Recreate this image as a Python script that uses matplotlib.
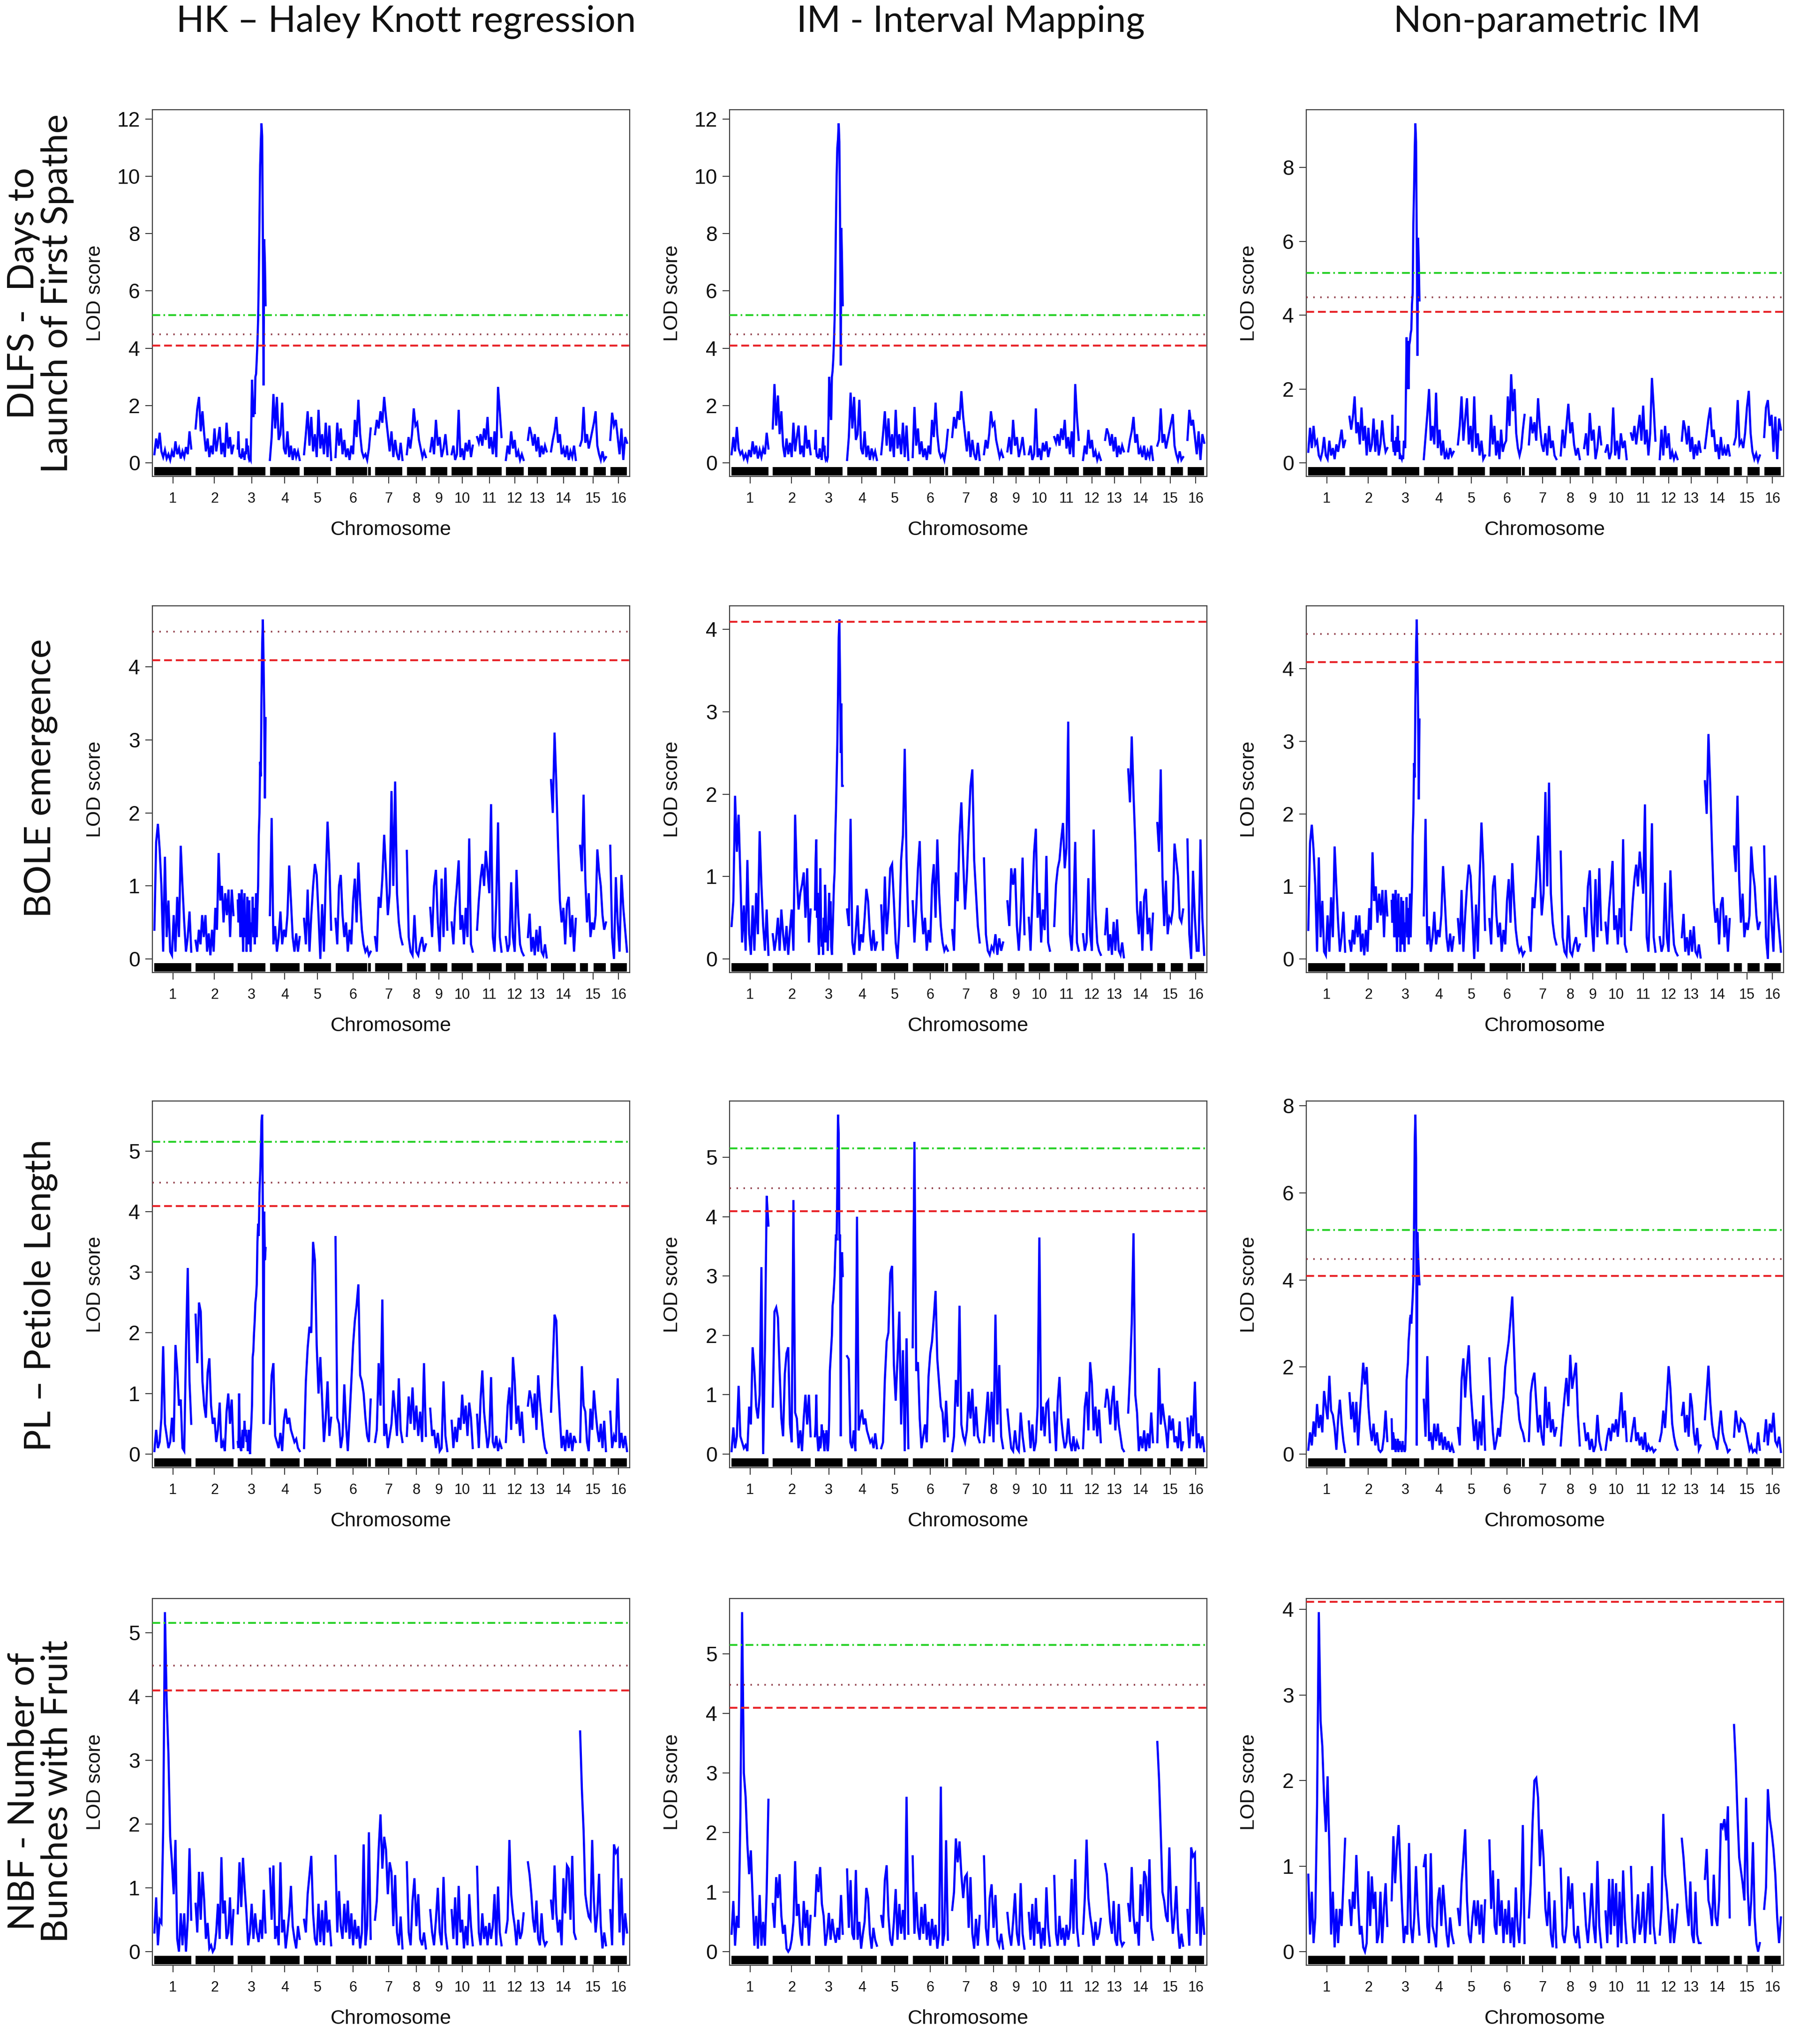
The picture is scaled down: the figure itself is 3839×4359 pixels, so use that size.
import numpy as np
import matplotlib
matplotlib.use("Agg")
import matplotlib.pyplot as plt
from matplotlib.patches import Rectangle
from matplotlib.transforms import blended_transform_factory

# ---------------- data ----------------
chrom_names = [str(i) for i in range(1, 17)]
chrom_len = [110, 113, 83, 89, 81, 105, 82, 57, 51, 63, 73, 53, 56, 74, 77, 50]
rug_gaps = {6: [(0.90, 0.92)], 15: [(0.30, 0.52)]}
thresholds = [5.15, 4.48, 4.09]

col_titles = ["HK \u2013 Haley Knott regression", "IM - Interval Mapping", "Non-parametric IM"]
row_labels = ["DLFS -  Days to\nLaunch of First Spathe", "BOLE emergence",
              "PL \u2013 Petiole Length", "NBF - Number of\nBunches with Fruit"]

DLFS_HK = [
    [0.3,0.85,0.5,1.05,0.4,0.2,0.45,0.15,0.3,0.1,0.4,0.2,0.75,0.3,0.5,0.15,0.4,0.2,0.55,0.3,1.1,0.5],
    [1.2,1.9,2.3,1.1,1.8,1.0,0.4,0.85,0.2,0.6,0.3,1.2,0.4,0.8,1.25,0.3,0.7,0.2,1.4,0.5,0.9,0.3,0.6],
    [0.5,1.1,0.4,0.2,0.3,0.15,0.3,0.5,0.2,0.3,0.1,0.4,0.3,0.85,0.4,0.6,0.2,0.1,0.15,0.1,1.5,2.9,2.3,1.6,1.9,1.7,3.0,3.1,3.6,4.2,5.0,6.5,8.5,10.4,11.2,11.85,11.4,8.0,2.7,7.8,7.0,5.5],
    [0.1,0.9,2.4,1.2,2.3,0.8,1.0,2.1,0.5,0.3,1.1,0.2,0.6,0.1,0.5,0.2,0.4,0.1],
    [0.3,1.0,1.8,0.6,1.6,0.4,1.0,0.2,1.85,0.5,1.0,0.3,1.4,0.2,1.3,0.1],
    [0.2,1.4,0.6,1.2,0.3,0.8,0.2,0.5,0.1,0.6,0.3,1.5,0.9,2.2,1.0,0.4,0.2,0.3,0.1,0.5,1.2],
    [1.0,1.5,1.2,1.8,1.4,2.3,1.6,1.0,0.4,1.1,0.2,0.8,0.3,0.1,0.7,0.1],
    [0.3,0.9,0.5,1.0,1.9,1.3,1.4,0.8,0.5,0.2,0.4,0.2],
    [0.4,0.9,0.3,1.5,0.6,0.9,0.2,0.5,1.0,0.3],
    [0.3,0.6,0.1,0.3,1.85,0.2,0.5,0.1,0.7,0.4,0.8,0.2,0.6],
    [0.9,0.7,1.0,0.6,1.2,0.8,1.6,0.5,0.9,0.3,1.1,0.2,2.65,1.8,0.9],
    [0.1,0.6,0.3,1.1,0.5,0.8,0.2,0.4,0.1,0.3,0.1],
    [0.8,1.25,1.0,0.6,1.0,0.4,0.9,0.2,0.6,0.3,0.6,0.4],
    [0.4,0.8,1.1,1.6,0.7,1.0,0.3,0.5,0.2,0.6,0.1,0.4,0.2,0.6,0.1],
    [0.6,0.8,1.95,0.7,1.0,0.5,0.8,1.1,1.4,1.8,0.6,0.3,0.1,0.4,0.1,0.2],
    [0.8,1.75,1.3,1.5,0.9,0.3,1.2,0.1,0.9,0.7],
]
DLFS_IM = [
    [0.3,0.9,0.4,1.25,0.5,0.3,0.4,0.15,0.3,0.1,0.45,0.2,0.75,0.3,0.6,0.15,0.45,0.2,0.5,0.3,1.05,0.5],
    [1.2,2.75,1.3,2.35,1.0,1.8,0.6,0.2,0.85,0.3,0.7,0.2,1.4,0.4,0.9,1.3,0.3,0.6,0.2,1.3,0.5,0.8,0.3],
    [0.5,1.15,0.4,0.2,0.3,0.15,0.3,0.5,0.2,0.35,0.1,0.5,0.9,0.4,0.6,0.2,0.1,0.15,0.1,0.2,1.5,3.0,2.6,1.7,1.5,3.0,3.2,3.6,4.2,5.0,6.5,8.4,10.0,11.0,11.3,11.85,11.2,8.5,3.4,8.2,7.0,5.5],
    [0.1,0.9,2.45,1.2,2.3,0.8,1.0,2.2,0.5,0.3,1.1,0.2,0.6,0.1,0.5,0.2,0.4,0.1],
    [0.3,1.0,1.8,0.6,1.55,0.4,1.0,0.2,1.85,0.5,1.0,0.3,1.4,0.2,1.3,0.1],
    [0.2,1.95,0.6,1.2,0.3,0.75,0.2,0.5,0.1,0.6,0.3,1.5,0.9,2.1,1.0,0.4,0.2,0.3,0.1,0.5,1.15],
    [0.9,1.6,1.2,1.8,1.5,2.5,1.6,1.0,0.4,1.1,0.2,0.8,0.3,0.1,0.7,0.1],
    [0.3,0.8,0.5,1.0,1.8,1.3,1.4,0.8,0.5,0.2,0.4,0.2],
    [0.4,0.9,0.3,1.5,0.6,0.9,0.2,0.5,0.9,0.3],
    [0.3,0.6,0.1,0.3,1.9,0.2,0.5,0.1,0.7,0.4,0.75,0.2,0.5],
    [0.9,0.7,1.0,0.6,1.2,0.8,1.5,0.5,0.9,0.3,1.1,0.2,2.75,1.6,0.8],
    [0.1,0.6,0.3,1.15,0.5,0.8,0.2,0.4,0.1,0.3,0.1],
    [0.8,1.2,1.0,0.6,1.0,0.4,0.9,0.2,0.6,0.3,0.6,0.4],
    [0.4,0.8,1.1,1.6,0.7,1.0,0.3,0.5,0.2,0.6,0.1,0.4,0.2,0.6,0.1],
    [0.6,0.8,1.9,0.7,1.0,0.5,0.8,1.1,1.4,1.7,0.6,0.3,0.1,0.4,0.1,0.2],
    [0.8,1.85,1.3,1.5,0.9,0.3,1.1,0.1,1.0,0.7],
]
DLFS_NP = [
    [0.3,0.95,0.4,1.0,0.5,0.6,0.2,0.1,0.3,0.7,0.2,0.1,0.6,0.2,0.4,0.1,0.5,0.3,0.6,0.9,0.4,0.6],
    [1.25,0.9,1.25,1.8,0.8,1.1,0.5,1.5,0.6,1.0,0.2,0.95,0.3,0.5,1.2,0.3,0.9,0.2,0.5,1.15,0.6,0.3,0.4],
    [0.6,1.3,0.5,0.3,0.6,0.2,0.4,0.7,0.3,1.0,0.3,0.6,0.1,0.2,0.15,0.1,0.2,0.1,0.6,0.5,0.4,1.9,3.4,2.0,3.3,2.0,3.2,3.3,3.5,3.6,4.3,4.6,6.5,7.4,8.5,9.2,8.7,6.0,2.9,6.1,5.4,4.4],
    [0.1,0.7,1.3,2.0,0.6,1.0,0.5,1.9,0.4,0.9,0.2,0.6,0.1,0.3,0.1,0.4,0.2,0.3],
    [0.5,1.0,1.8,0.6,1.2,1.75,0.5,1.0,0.3,1.8,0.4,0.8,0.2,0.6,0.1,0.2],
    [0.2,1.3,0.5,1.0,0.2,0.6,0.1,0.9,0.3,0.5,0.6,1.8,1.0,2.4,1.4,2.0,0.8,0.4,0.2,0.4,0.9,1.3],
    [0.5,1.25,0.8,1.1,0.6,1.75,1.0,0.5,0.3,0.8,0.2,1.0,0.4,0.6,0.2,0.1],
    [0.2,0.9,0.4,1.0,1.6,0.8,1.1,0.5,0.2,0.4,0.1],
    [0.4,0.8,0.2,1.35,0.6,0.9,0.1,0.4,1.0,0.5],
    [0.3,0.5,0.1,0.3,1.5,0.2,0.6,0.1,0.8,0.4,0.6,0.1],
    [0.8,0.6,1.0,0.5,0.9,1.3,0.6,1.55,0.5,0.9,0.2,0.8,2.3,1.5,0.6],
    [0.1,0.9,0.2,1.0,0.4,0.8,0.1,0.3,0.1,0.25,0.1],
    [0.6,1.15,0.9,0.5,1.0,0.3,0.7,0.1,0.5,0.2,0.6,0.3],
    [0.4,0.8,1.2,1.5,0.7,0.9,0.3,0.5,0.1,0.7,0.2,0.4,0.2,0.5,0.2],
    [0.5,0.7,1.7,0.5,0.6,0.4,0.8,1.5,1.95,0.8,0.3,0.1,0.25,0.05,0.2],
    [0.7,1.5,1.7,1.0,1.3,0.3,1.25,0.1,1.2,0.9],
]
BOLE_HK = [
    [0.4,1.6,1.85,1.5,1.0,0.1,1.4,0.3,0.8,0.1,0.05,0.6,0.1,0.85,0.3,1.55,1.0,0.5,0.1,0.3,0.65,0.1],
    [0.25,0.1,0.4,0.2,0.6,0.3,0.6,0.1,0.35,0.05,0.4,0.1,0.7,0.4,1.45,0.8,1.0,0.5,0.9,0.6,0.95,0.3,0.95,0.6],
    [0.8,0.5,0.9,0.6,0.3,0.8,0.95,0.4,0.1,0.7,0.9,0.3,0.6,0.1,0.85,0.4,0.2,0.8,0.3,0.1,0.5,0.4,0.85,0.3,0.7,0.2,0.4,0.9,0.3,0.7,1.0,1.7,2.0,2.7,2.5,3.6,4.3,4.65,4.1,3.4,2.2,3.3],
    [0.6,1.93,0.2,0.45,0.1,0.3,0.65,0.2,0.4,0.3,0.6,1.28,0.8,0.3,0.1,0.35,0.1,0.3],
    [0.55,0.2,0.95,0.1,0.6,1.0,1.3,1.15,0.6,0.0,0.75,0.1,1.1,1.88,1.3,0.4],
    [0.55,0.2,1.0,1.15,0.6,0.3,0.5,0.1,0.4,0.2,0.8,1.1,0.5,1.32,0.8,0.4,0.2,0.1,0.15,0.05,0.1],
    [0.3,0.1,0.85,0.7,1.1,1.7,1.2,0.6,0.9,2.3,1.0,2.43,0.9,0.5,0.3,0.2],
    [1.48,0.3,0.1,0.05,0.6,0.1,0.05,0.2,0.3,0.1,0.2],
    [0.7,0.3,1.0,1.22,0.5,0.1,1.1,0.3,1.25,0.4],
    [0.5,0.2,0.7,1.0,1.35,0.4,0.6,0.2,0.7,0.3,1.65,0.2,0.1],
    [0.4,0.8,1.1,1.3,1.0,1.48,1.2,0.9,2.12,0.3,0.1,0.8,1.87,0.3,0.1],
    [0.3,0.1,0.2,1.05,0.3,0.1,1.22,0.6,0.2,0.1,0.05],
    [0.3,0.62,0.1,0.3,0.05,0.4,0.1,0.45,0.1,0.05,0.2,0.02],
    [2.45,2.0,3.1,2.4,1.55,0.8,0.5,0.7,0.2,0.75,0.85,0.3,0.6,0.1,0.55],
    [1.55,1.2,2.25,1.1,0.5,0.9,0.3,0.5,0.4,0.6,1.5,1.2,1.0,0.6,0.4,0.5],
    [1.55,0.3,0.0,1.12,0.5,0.1,1.15,0.7,0.4,0.1],
]
BOLE_IM = [
    [0.4,0.7,1.98,1.3,1.75,1.0,0.2,0.65,0.1,1.2,0.3,0.05,0.65,0.1,0.8,0.3,1.55,0.9,0.4,0.1,0.6,0.05],
    [0.3,0.1,0.25,0.5,0.1,0.6,0.3,0.1,0.4,0.05,0.35,0.6,0.1,1.75,1.0,0.6,0.8,0.9,1.05,0.5,1.1,0.2,0.6],
    [0.6,1.2,1.45,0.5,0.8,0.2,0.05,0.6,1.1,0.4,0.15,0.3,0.05,0.5,0.2,0.9,0.6,0.2,0.4,0.1,0.5,0.8,0.35,0.7,0.15,0.05,0.3,0.6,0.9,1.05,1.5,1.8,2.2,2.6,3.2,3.9,4.12,3.4,2.5,3.1,2.1,2.1],
    [0.6,0.4,1.7,0.2,0.05,0.35,0.65,0.1,0.3,0.2,0.5,0.85,0.7,0.3,0.1,0.35,0.1,0.2],
    [0.65,0.1,1.0,0.3,0.6,1.1,1.15,0.7,0.2,0.0,0.4,1.2,1.5,2.55,1.2,0.4],
    [0.7,0.2,0.6,1.1,1.43,0.6,0.3,0.5,0.1,0.35,0.2,0.9,1.15,0.5,1.45,0.8,0.4,0.2,0.1,0.15,0.1],
    [0.35,0.1,1.05,0.7,1.5,1.9,1.2,0.6,1.0,1.6,2.1,2.3,1.2,0.8,0.4,0.2],
    [1.22,0.3,0.1,0.05,0.15,0.1,0.3,0.05,0.25,0.1,0.2],
    [0.7,0.4,1.1,0.9,1.1,0.4,0.1,0.5,1.23,0.3],
    [0.5,0.1,0.7,1.3,1.58,0.5,0.8,0.2,0.6,0.35,1.25,0.2,0.1],
    [0.4,0.9,1.1,1.2,1.45,1.65,1.1,1.35,2.88,0.3,0.1,0.6,1.42,0.2,0.1],
    [0.3,0.1,0.2,0.98,0.3,0.1,1.57,0.6,0.2,0.1,0.05],
    [0.3,0.62,0.1,0.3,0.05,0.45,0.1,0.48,0.1,0.05,0.2,0.02],
    [2.3,1.9,2.7,2.0,1.4,0.6,0.3,0.7,0.1,0.75,0.85,0.3,0.5,0.1,0.55],
    [1.65,1.3,2.3,1.0,0.4,0.95,0.3,0.5,0.45,0.6,1.4,1.2,1.0,0.5,0.45,0.6],
    [1.45,0.3,0.0,1.07,0.5,0.1,0.1,1.45,0.5,0.05],
]
BOLE_NP = [
    [0.4,1.6,1.85,1.5,1.0,0.1,1.4,0.3,0.8,0.1,0.05,0.6,0.1,0.85,0.3,1.55,1.0,0.5,0.1,0.3,0.65,0.1],
    [0.25,0.1,0.4,0.2,0.6,0.3,0.6,0.1,0.35,0.05,0.4,0.1,0.7,0.4,1.47,0.8,1.0,0.5,0.9,0.6,0.95,0.3,0.95,0.6],
    [0.8,0.5,0.9,0.6,0.3,0.8,0.95,0.4,0.1,0.7,0.9,0.3,0.6,0.1,0.85,0.4,0.2,0.8,0.3,0.1,0.5,0.4,0.85,0.3,0.7,0.2,0.4,0.9,0.3,0.7,1.0,1.7,2.0,2.7,2.5,3.6,4.3,4.68,4.1,3.4,2.2,3.3],
    [0.6,1.93,0.2,0.45,0.1,0.3,0.65,0.2,0.4,0.3,0.6,1.28,0.8,0.3,0.1,0.35,0.1,0.3],
    [0.55,0.2,0.95,0.1,0.6,1.0,1.3,1.15,0.6,0.0,0.75,0.1,1.1,1.88,1.3,0.4],
    [0.55,0.2,1.0,1.15,0.6,0.3,0.5,0.1,0.4,0.2,0.8,1.1,0.5,1.32,0.8,0.4,0.2,0.1,0.15,0.05,0.1],
    [0.3,0.1,0.85,0.7,1.1,1.7,1.2,0.6,0.9,2.3,1.0,2.43,0.9,0.5,0.3,0.2],
    [1.48,0.3,0.1,0.05,0.6,0.1,0.05,0.2,0.3,0.1,0.2],
    [0.7,0.3,1.0,1.22,0.5,0.1,1.1,0.3,1.25,0.4],
    [0.5,0.2,0.7,1.0,1.35,0.4,0.6,0.2,0.7,0.3,1.65,0.2,0.1],
    [0.4,0.8,1.1,1.3,1.0,1.48,1.2,0.9,2.13,0.3,0.1,0.8,1.87,0.3,0.1],
    [0.3,0.1,0.2,1.05,0.3,0.1,1.22,0.6,0.2,0.1,0.05],
    [0.3,0.62,0.1,0.3,0.05,0.4,0.1,0.45,0.1,0.05,0.2,0.02],
    [2.45,2.0,3.1,2.4,1.55,0.8,0.5,0.7,0.2,0.75,0.85,0.3,0.6,0.1,0.55],
    [1.55,1.2,2.25,1.1,0.5,0.9,0.3,0.5,0.4,0.6,1.55,1.2,1.0,0.6,0.4,0.5],
    [1.55,0.3,0.0,1.12,0.5,0.1,1.15,0.7,0.4,0.1],
]
PL_HK = [
    [0.05,0.4,0.1,0.2,0.6,1.78,0.5,0.3,0.1,0.2,0.6,0.2,1.8,1.4,0.8,0.9,0.1,0.05,1.75,3.07,1.2,0.5],
    [2.3,1.5,2.5,2.35,1.2,0.8,0.6,1.35,1.58,0.8,0.5,0.6,0.2,0.4,0.85,0.1,0.2,0.05,0.7,1.0,0.5,0.9,0.1],
    [0.2,0.1,1.0,0.3,0.1,0.05,0.2,0.4,0.1,0.3,0.55,0.3,0.4,0.2,0.3,0.05,0.4,0.2,0.0,0.3,0.5,0.8,1.6,1.7,2.0,2.2,2.5,2.6,2.8,3.5,3.8,3.6,4.3,4.6,5.0,5.5,5.6,4.0,0.5,4.0,3.2,3.4],
    [0.5,1.3,1.5,0.3,0.2,0.1,0.35,0.05,0.55,0.75,0.5,0.6,0.4,0.3,0.2,0.25,0.1,0.05],
    [0.1,1.2,1.75,2.1,2.0,3.5,3.2,1.8,1.0,1.6,0.9,0.2,0.6,1.2,0.3,0.6],
    [3.58,0.6,0.5,0.1,0.3,1.15,0.5,0.05,0.6,1.2,1.8,2.2,2.45,2.8,1.3,1.2,1.0,0.6,0.3,0.2,0.9],
    [0.2,0.4,1.5,0.8,2.55,0.3,0.5,0.1,0.3,0.5,1.05,0.7,0.3,1.25,0.4,0.2],
    [0.3,0.95,0.5,1.1,0.4,0.8,0.3,0.7,0.2,1.5,0.3],
    [0.75,0.3,0.4,0.1,0.35,0.05,0.1,1.2,0.3,0.05],
    [0.55,0.1,0.45,0.2,0.6,0.4,0.98,0.5,0.8,0.3,0.85,0.6,0.1],
    [0.65,0.1,0.9,1.38,0.7,0.4,0.1,0.3,1.27,0.2,0.1,0.3,0.05,0.2,0.1],
    [0.2,0.8,1.1,0.4,1.6,1.2,0.5,0.8,0.3,0.7,0.2],
    [0.8,1.05,0.9,0.6,1.0,0.4,1.3,0.9,0.6,0.3,0.1,0.02],
    [0.7,1.5,2.3,2.2,1.15,0.6,0.1,0.3,0.05,0.4,0.1,0.35,0.05,0.3,0.2],
    [0.2,1.45,0.8,0.7,0.2,0.05,0.75,0.4,1.05,0.7,0.4,0.2,0.5,0.1,0.55,0.05],
    [0.7,0.1,0.3,0.2,1.25,0.1,0.35,0.1,0.3,0.05],
]
PL_IM = [
    [0.05,0.45,0.1,0.3,1.15,0.3,0.2,0.1,0.15,0.05,0.8,0.5,1.8,1.4,0.8,0.6,1.0,3.15,0.0,1.75,4.35,3.85],
    [0.8,2.4,2.47,2.3,1.4,0.6,0.3,1.35,1.7,1.8,0.5,0.2,4.28,0.7,0.6,0.1,0.4,0.05,0.6,1.0,0.5,1.0,0.3],
    [0.3,0.5,1.0,0.4,0.2,0.05,0.1,0.3,0.1,0.2,0.5,0.3,0.4,0.2,0.05,0.35,0.2,0.4,0.1,0.05,0.2,0.6,1.4,1.6,1.8,2.0,2.5,2.6,2.8,3.0,3.4,3.7,3.6,4.5,5.72,5.4,3.6,3.7,0.3,3.2,3.4,3.0],
    [1.65,1.6,0.2,0.1,0.4,0.05,4.0,0.4,0.6,0.75,0.5,0.6,0.4,0.3,0.2,0.25,0.1,0.35,0.1],
    [0.1,0.2,1.25,1.9,2.05,3.05,3.17,1.5,0.9,1.6,2.4,0.5,1.75,0.05,1.95,0.1],
    [1.8,5.26,1.4,1.55,0.6,0.1,0.3,0.5,0.2,1.3,1.7,1.9,2.3,2.75,1.6,1.2,0.8,0.7,0.2,0.9,0.3],
    [0.05,0.3,1.25,0.8,2.5,0.5,0.3,0.2,0.4,1.05,0.6,1.1,0.3,0.8,0.3,0.2],
    [0.2,0.6,1.05,0.3,1.05,0.2,2.35,0.5,1.5,0.3,0.1],
    [0.75,0.4,0.1,0.05,0.4,0.1,0.05,0.7,0.3,0.05],
    [0.55,0.1,0.5,0.05,0.2,0.8,3.65,0.4,0.8,0.3,0.85,0.9,0.2],
    [0.7,0.05,0.9,1.3,0.6,0.3,0.1,0.2,0.6,0.2,0.05,0.3,0.05,0.2,0.1],
    [0.1,0.8,1.05,0.4,1.55,1.2,0.4,0.8,0.3,0.75,0.2],
    [0.8,1.1,0.9,0.5,0.9,1.15,0.4,0.9,0.5,0.3,0.1,0.05],
    [0.7,1.35,2.2,3.72,1.0,0.7,0.05,0.3,0.1,0.4,0.05,0.35,0.1,0.7,0.2],
    [0.2,1.45,0.5,0.85,0.6,0.4,0.1,0.65,0.4,0.6,0.2,0.3,0.1,0.55,0.05,0.2],
    [0.6,0.1,0.65,0.3,1.22,0.1,0.35,0.1,0.3,0.05],
]
PL_NP = [
    [0.1,0.5,0.2,0.75,0.4,1.15,0.6,0.9,0.5,1.45,1.1,0.8,1.8,1.0,0.9,0.6,0.1,0.8,1.25,0.7,0.3,0.05],
    [1.4,0.8,1.2,0.5,1.2,0.2,0.9,1.5,2.1,1.6,2.0,1.1,0.6,0.3,0.7,0.2,0.5,0.1,0.05,0.1,0.4,1.0,0.3],
    [0.8,0.1,0.5,0.4,0.1,0.35,0.05,0.3,0.1,0.35,0.05,0.2,0.3,0.1,0.2,0.05,0.3,0.1,0.2,0.05,0.1,0.6,1.7,1.9,2.1,2.6,2.8,3.1,3.2,3.0,3.3,3.6,4.0,5.3,7.2,7.8,6.8,0.2,5.1,4.6,4.2,3.9],
    [1.25,0.4,2.25,0.3,0.5,0.1,0.7,0.3,0.7,0.2,0.5,0.1,0.4,0.1,0.3,0.05,0.2,0.05],
    [0.6,0.2,1.7,2.2,1.3,2.0,2.5,1.5,0.9,0.3,0.8,0.1,0.75,0.2,1.35,0.1],
    [2.2,1.2,0.5,0.1,0.3,0.6,0.4,0.9,1.3,2.0,2.3,2.6,3.1,3.62,2.5,1.4,1.3,0.8,0.6,0.5,0.3],
    [0.3,1.4,1.7,1.87,1.2,0.5,0.9,0.4,0.2,1.55,0.6,1.2,0.5,0.8,0.4,0.6],
    [0.2,0.8,1.3,1.75,1.1,2.28,1.5,1.8,2.1,0.9,0.2],
    [0.7,0.3,0.5,0.1,0.35,0.05,0.2,0.9,0.3,0.1],
    [0.1,0.4,0.6,0.3,0.7,0.5,0.8,0.4,0.9,1.42,0.6,1.0,0.3],
    [0.3,0.6,0.85,0.3,0.5,0.2,0.4,0.1,0.5,0.05,0.2,0.1,0.15,0.05,0.1],
    [0.3,0.5,1.0,0.6,1.3,2.02,1.5,0.7,0.4,0.2,0.1],
    [0.9,1.2,0.5,0.9,0.4,1.4,1.1,0.5,0.2,0.6,0.1,0.2],
    [0.8,1.4,2.03,1.2,0.7,0.4,0.3,0.1,0.6,1.0,0.5,0.3,0.2,0.05,0.1],
    [0.4,1.0,0.7,0.5,0.8,0.75,0.7,0.5,0.3,0.1,0.2,0.05,0.1,0.05,0.5,0.1],
    [0.3,0.8,0.2,0.7,0.5,0.95,0.3,0.2,0.4,0.05],
]
NBF_HK = [
    [0.3,0.85,0.1,0.5,0.45,1.9,5.32,3.9,3.1,1.8,1.4,0.9,1.75,0.2,0.0,0.6,0.1,0.6,0.0,0.5,1.62,0.5],
    [0.75,0.3,1.25,0.5,1.25,0.8,0.2,0.45,0.05,0.1,0.0,0.05,0.3,0.75,0.2,1.48,0.6,0.8,0.2,0.3,0.85,0.1,0.65],
    [0.6,1.4,0.7,1.47,1.0,0.6,0.1,0.3,0.75,0.2,0.6,0.3,0.15,0.5,0.2,0.97,0.3],
    [1.3,0.5,1.35,0.2,0.4,0.1,1.4,0.3,0.5,0.05,0.3,0.6,1.03,0.4,0.2,0.05,0.4,0.2],
    [0.5,0.3,0.9,1.2,1.5,0.6,0.2,0.1,0.75,0.15,0.65,0.1,0.8,0.3,0.5,0.1],
    [1.5,0.3,0.95,0.4,0.2,0.75,0.3,0.8,0.2,0.6,0.1,0.5,0.2,0.4,0.05,0.3,1.68,0.1,0.4,1.87,0.2],
    [0.5,0.8,1.6,2.15,1.3,1.8,1.6,0.9,1.4,1.25,0.4,1.2,0.3,0.1,0.55,0.05],
    [1.4,0.3,0.1,0.8,1.15,0.4,0.9,0.2,0.1,0.3,0.05],
    [0.65,0.3,0.1,0.5,1.0,0.3,0.1,1.17,0.3,0.05],
    [0.65,0.2,0.85,0.1,1.03,0.3,0.5,0.05,0.4,0.1,0.9,0.4,0.1],
    [1.33,0.3,0.1,0.6,0.2,0.4,0.1,0.45,0.2,0.4,0.9,0.1,1.02,0.3,0.1],
    [0.3,0.5,1.75,0.9,0.6,0.4,0.1,0.5,0.2,0.3,0.6],
    [1.4,1.2,0.9,0.5,0.3,0.8,0.2,0.1,0.6,0.2,0.1,0.15],
    [0.8,0.5,1.35,0.6,0.3,0.5,0.1,1.15,0.6,1.35,1.3,0.5,1.5,0.3,0.2],
    [3.45,2.55,1.9,0.9,0.7,0.55,0.5,1.75,0.8,0.3,0.6,1.22,0.4,0.05,0.3,0.1],
    [0.65,0.1,1.68,1.55,1.6,0.3,1.15,0.1,0.6,0.3],
]
NBF_IM = [
    [0.3,0.85,0.1,0.6,0.4,2.25,5.7,3.0,2.6,1.8,1.3,1.7,0.9,0.1,0.6,0.05,0.95,0.1,0.5,0.1,1.0,2.55],
    [0.8,0.4,1.25,0.9,1.3,0.6,0.3,0.45,0.05,0.0,0.05,0.2,0.5,1.52,0.6,0.8,0.3,0.1,0.85,0.4,0.7,0.1,0.6],
    [0.6,1.3,1.0,1.42,0.8,0.6,0.1,0.3,0.65,0.2,0.55,0.3,0.15,0.4,0.2,0.95,0.3],
    [1.38,0.4,1.2,0.3,0.2,1.37,0.2,0.5,0.05,0.3,0.5,1.07,0.9,0.3,0.05,0.4,0.2,0.1],
    [0.6,0.4,1.2,1.45,0.6,0.2,0.1,0.5,1.05,0.2,0.8,0.3,0.7,0.2,2.6,0.3],
    [1.6,0.3,1.0,0.4,0.2,0.75,0.3,0.8,0.2,0.5,0.1,0.55,0.2,0.45,0.05,0.3,2.77,0.1,0.3,1.87,0.2],
    [0.7,1.0,1.9,1.5,1.85,1.3,0.9,1.25,1.3,0.4,1.25,0.3,0.05,0.55,0.1,0.6],
    [1.6,0.4,0.1,0.9,1.13,0.4,0.95,0.2,0.1,0.3,0.05],
    [0.65,0.3,0.1,0.5,0.98,0.3,0.1,1.15,0.3,0.05],
    [0.65,0.2,0.8,0.1,0.9,0.3,0.5,0.05,0.4,0.1,1.08,0.4,0.1],
    [1.27,0.3,0.1,0.6,0.2,0.4,0.1,0.45,0.2,0.4,1.22,0.3,1.55,0.4,0.1],
    [0.3,0.9,1.88,0.9,0.6,0.4,0.1,0.5,0.2,0.3,0.55],
    [1.47,1.3,0.9,0.5,0.3,0.85,0.2,0.1,0.8,0.2,0.1,0.15],
    [0.8,0.5,1.42,0.6,0.3,0.5,0.1,1.13,0.6,1.35,1.25,0.5,1.55,0.4,0.2],
    [3.52,2.9,2.0,1.0,0.85,0.6,0.5,1.75,0.8,0.3,0.6,1.1,0.4,0.05,0.3,0.1],
    [0.7,0.1,1.75,1.6,1.65,0.3,1.17,0.1,0.75,0.3],
]
NBF_NP = [
    [0.9,0.2,0.7,0.1,0.4,1.7,3.97,2.7,2.4,1.8,1.4,2.05,1.2,0.2,0.7,0.05,0.5,0.1,0.5,0.3,0.8,1.32],
    [0.6,0.3,0.7,0.5,1.13,0.6,0.2,0.3,0.05,0.0,0.1,0.94,0.3,0.88,0.5,0.7,0.1,0.2,0.7,0.1,0.5,0.8,0.3],
    [0.6,1.35,0.8,1.2,1.48,1.0,0.5,0.1,0.3,0.2,1.27,0.3,0.1,0.4,1.0,0.5,0.2],
    [1.0,1.14,0.3,0.1,1.15,0.3,0.2,0.05,0.6,0.75,0.3,0.78,0.5,0.2,0.05,0.4,0.2,0.1],
    [0.5,0.3,0.8,1.1,1.43,0.6,0.2,0.1,0.4,0.6,0.3,0.6,0.2,0.55,0.1,0.6],
    [1.3,0.5,0.95,0.3,0.2,0.85,0.3,0.6,0.1,0.5,0.2,0.6,0.1,0.4,0.05,0.75,0.3,0.1,0.5,1.48,0.1],
    [0.4,0.8,1.5,2.0,2.03,1.8,1.0,1.43,1.1,0.5,0.3,0.7,0.2,0.05,0.6,0.05],
    [0.97,0.2,0.1,0.3,0.88,0.5,0.8,0.2,0.1,0.3,0.05],
    [0.68,0.3,0.1,0.4,0.8,0.3,0.1,1.06,0.3,0.05],
    [0.47,0.1,0.85,0.2,0.85,0.3,0.8,0.05,0.7,0.1,0.95,0.4,0.1],
    [0.99,0.3,0.1,0.4,0.67,0.2,0.3,0.7,0.1,0.4,0.8,0.2,1.0,0.3,0.1],
    [0.2,0.5,1.61,0.9,0.7,0.4,0.1,0.5,0.1,0.3,0.55],
    [1.32,1.1,0.8,0.5,0.3,0.82,0.2,0.1,0.7,0.2,0.1,0.1],
    [0.85,1.2,0.6,0.5,0.3,0.9,0.4,0.3,0.6,1.5,1.45,1.55,1.3,1.7,0.4],
    [2.65,2.2,1.6,1.1,0.95,0.8,0.6,1.8,0.7,0.3,0.6,1.28,0.4,0.1,0.0,0.1],
    [0.5,0.75,1.9,1.55,1.4,1.2,0.9,0.4,0.1,0.4],
]

panels = [[DLFS_HK, DLFS_IM, DLFS_NP],
          [BOLE_HK, BOLE_IM, BOLE_NP],
          [PL_HK, PL_IM, PL_NP],
          [NBF_HK, NBF_IM, NBF_NP]]
ytick_step = [[2, 2, 2], [1, 1, 1], [1, 1, 2], [1, 1, 1]]

# ---------------- layout / style ----------------
W, H = 3839, 4359
DPI = 100
GAP = 12.9
col_left = [325, 1556, 2786]
row_top = [234, 1292, 2348, 3409]
AX_W, AX_H = 1018, 782
title_cx = [866, 2070, 3300]

BLUE = "#0000FF"
GREEN = "#2BD12B"
BROWN = "#8E3B46"
RED = "#E8262B"
FRAME = "#3C3C3C"

plt.rcParams["lines.scale_dashes"] = False
AXFONT = ["Liberation Sans", "DejaVu Sans"]
BIGFONT = ["Lato", "DejaVu Sans"]

starts = []
pos = 0.0
for L in chrom_len:
    starts.append(pos)
    pos += L + GAP
total = starts[-1] + chrom_len[-1]
mids = [s + L / 2 for s, L in zip(starts, chrom_len)]

fig = plt.figure(figsize=(W / DPI, H / DPI), dpi=DPI)
fig.patch.set_facecolor("white")

for r in range(4):
    for c in range(3):
        data = panels[r][c]
        ax = fig.add_axes([col_left[c] / W, 1 - (row_top[r] + AX_H) / H, AX_W / W, AX_H / H])
        M = max(max(v) for v in data)
        for s, L, vals in zip(starts, chrom_len, data):
            x = s + np.linspace(0, L, len(vals))
            ax.plot(x, vals, color=BLUE, lw=3.3, solid_joinstyle="miter", zorder=2)
        ax.axhline(thresholds[0], color=GREEN, lw=2.9, dashes=(12, 5, 2.5, 5), zorder=3)
        ax.axhline(thresholds[1], color=BROWN, lw=2.6, dashes=(2.2, 8.5), zorder=3)
        ax.axhline(thresholds[2], color=RED, lw=3.0, dashes=(12, 6), zorder=3)
        ax.set_ylim(-0.04 * M, 1.04 * M)
        ax.set_xlim(-6, total + 8)
        # marker rug
        tr = blended_transform_factory(ax.transData, ax.transAxes)
        for i, (s, L) in enumerate(zip(starts, chrom_len)):
            segs = [(0.0, 1.0)]
            for g0, g1 in rug_gaps.get(i + 1, []):
                new = []
                for a, b in segs:
                    if g0 > a:
                        new.append((a, g0))
                    if g1 < b:
                        new.append((g1, b))
                segs = new
            for a, b in segs:
                ax.add_patch(Rectangle((s + a * L, 0.003), (b - a) * L, 0.022,
                                       transform=tr, color="black", lw=0, zorder=4))
        step = ytick_step[r][c]
        yt = np.arange(0, 1.04 * M + 1e-9, step)
        ax.set_yticks(yt)
        ax.set_yticklabels([f"{int(v)}" for v in yt], family=AXFONT)
        ax.set_xticks(mids)
        ax.set_xticklabels(chrom_names, family=AXFONT)
        ax.tick_params(axis="y", length=11, width=1.5, labelsize=32, pad=8, colors=FRAME,
                       labelcolor="#111111")
        ax.tick_params(axis="x", length=11, width=1.5, labelsize=22, pad=13, colors=FRAME,
                       labelcolor="#111111")
        for sp in ax.spines.values():
            sp.set_color(FRAME)
            sp.set_linewidth(1.6)
        ax.text(-122 / AX_W, 0.5, "LOD score", transform=ax.transAxes, rotation=90,
                ha="center", va="center", fontsize=31, family=AXFONT, color="#111111")
        ax.text(0.5, -114 / AX_H, "Chromosome", transform=ax.transAxes,
                ha="center", va="center", fontsize=31, family=AXFONT, color="#111111")

for c in range(3):
    fig.text(title_cx[c] / W, 1 - 47 / H, col_titles[c], ha="center", va="center",
             fontsize=56, family=BIGFONT, color="#111111")

row_cy = [626, 1660, 2762, 3820]
for r in range(4):
    fig.text(87 / W, 1 - row_cy[r] / H, row_labels[r], rotation=90, ha="center", va="center",
             fontsize=56, family=BIGFONT, linespacing=1.0, color="#111111")

fig.savefig("out.png", dpi=DPI, facecolor="white")
